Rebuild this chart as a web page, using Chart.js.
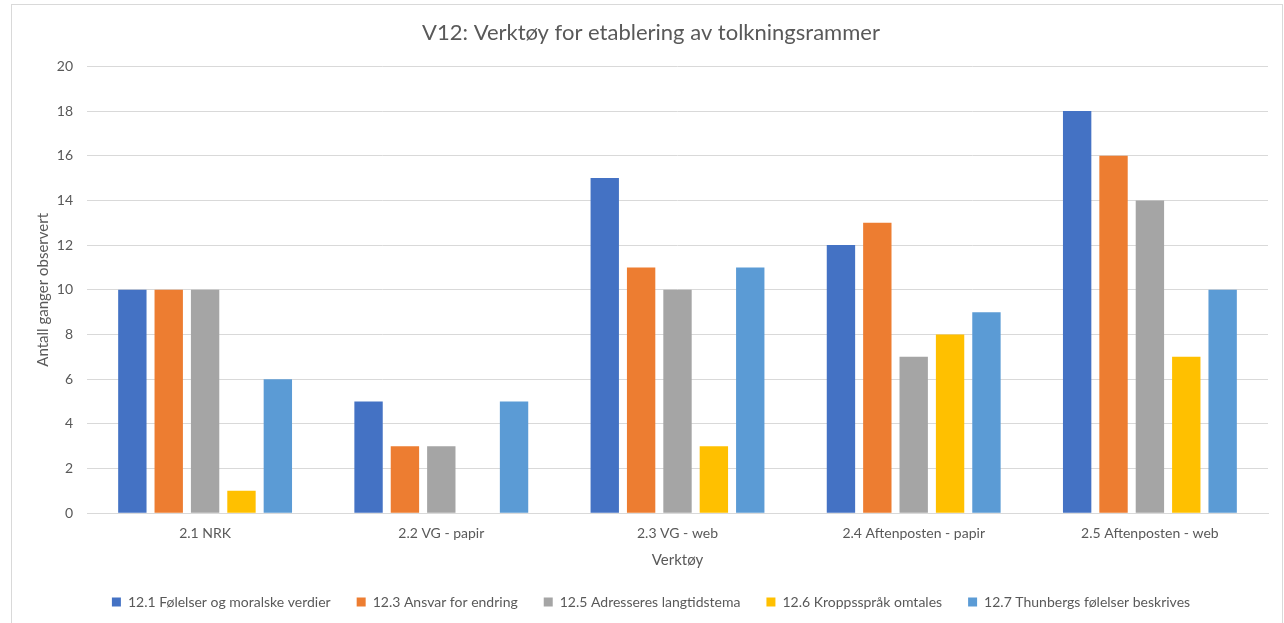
<!DOCTYPE html>
<html lang="no">
<head>
    <meta charset="utf-8">
    <script src="https://cdn.jsdelivr.net/npm/chart.js"></script>
    <style>
        body { margin: 0; padding: 0; background: #ffffff; }
        #wrap { position: relative; width: 1284px; height: 623px; overflow: hidden; }
        #frame {
            position: absolute; left: 11px; top: 4px; width: 1270px; height: 640px;
            border: 1px solid #d9d9d9; pointer-events: none;
        }
        #chart { position: absolute; left: 0; top: 0; }
    </style>
</head>
<body>
<div id="wrap">
    <canvas id="chart" width="1284" height="623"></canvas>
    <div id="frame"></div>
</div>
<script>
    // Categories (x axis)
    const categories = ['2.1 NRK', '2.2 VG - papir', '2.3 VG - web', '2.4 Aftenposten - papir', '2.5 Aftenposten - web'];

    // Series values
    const folelserMoral = [10, 5, 15, 12, 18];
    const ansvarEndring = [10, 3, 11, 13, 16];
    const langtidstema = [10, 3, 10, 7, 14];
    const kroppsspraak = [1, 0, 3, 8, 7];
    const thunbergFolelser = [6, 5, 11, 9, 10];

    const seriesNames = [
        '12.1 Følelser og moralske verdier',
        '12.3 Ansvar for endring',
        '12.5 Adresseres langtidstema',
        '12.6 Kroppsspråk omtales',
        '12.7 Thunbergs følelser beskrives'
    ];

    const colors = ['#4472C4', '#ED7D31', '#A5A5A5', '#FFC000', '#5B9BD5'];
    const values = [folelserMoral, ansvarEndring, langtidstema, kroppsspraak, thunbergFolelser];

    const font = 'Lato, "Open Sans", sans-serif';
    const textColor = '#595959';

    new Chart(document.getElementById('chart'), {
        type: 'bar',
        data: {
            labels: categories,
            datasets: values.map((v, i) => ({
                label: seriesNames[i],
                data: v,
                backgroundColor: colors[i],
                categoryPercentage: 0.77,
                barPercentage: 0.78
            }))
        },
        options: {
            responsive: false,
            animation: false,
            layout: { padding: { left: 34, right: 16, top: 4, bottom: 4 } },
            plugins: {
                title: {
                    display: true,
                    text: 'V12: Verktøy for etablering av tolkningsrammer',
                    color: textColor,
                    font: { family: font, size: 22, weight: 'normal' },
                    padding: { top: 16, bottom: 20 }
                },
                legend: {
                    position: 'bottom',
                    labels: {
                        color: textColor,
                        font: { family: font, size: 14 },
                        boxWidth: 9,
                        boxHeight: 9,
                        padding: 26
                    }
                },
                tooltip: { enabled: false }
            },
            scales: {
                x: {
                    grid: { display: false, drawTicks: false },
                    border: { color: '#d9d9d9' },
                    ticks: { color: textColor, font: { family: font, size: 14 }, padding: 12 },
                    title: {
                        display: true,
                        text: 'Verktøy',
                        color: textColor,
                        font: { family: font, size: 15 },
                        padding: { top: -3, bottom: 0 }
                    }
                },
                y: {
                    min: 0,
                    max: 20,
                    afterFit: scale => { scale.width = 53; },
                    ticks: { stepSize: 2, color: textColor, font: { family: font, size: 14 }, padding: 14 },
                    grid: { color: '#d9d9d9', drawTicks: false },
                    border: { display: false },
                    title: {
                        display: true,
                        text: 'Antall ganger observert',
                        color: textColor,
                        font: { family: font, size: 15 },
                        padding: { top: 0, bottom: 0 }
                    }
                }
            }
        }
    });
</script>
</body>
</html>
